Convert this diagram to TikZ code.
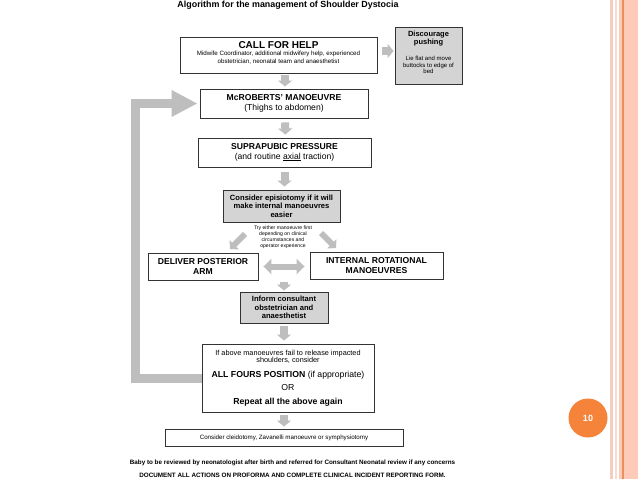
\documentclass[tikz,border=0pt]{standalone}
\usepackage{fontspec}
\setmainfont{Liberation Sans}
\usetikzlibrary{arrows.meta}
\definecolor{agray}{HTML}{BEBEBE}
\definecolor{bgray}{HTML}{D4D4D4}
\definecolor{bord}{HTML}{333333}
\definecolor{salm}{HTML}{FDCBB8}
\definecolor{pinkA}{HTML}{F5CDBF}
\definecolor{pinkB}{HTML}{F9DCD1}
\definecolor{oline}{HTML}{E8905E}
\definecolor{circ}{HTML}{F5843A}
\newcommand{\fsz}[2]{\fontsize{#1}{#2}\selectfont}
\begin{document}
\begin{tikzpicture}[x=1pt,y=-1pt,
  box/.style={draw=bord, line width=0.9pt, fill=white, inner sep=0pt, align=center},
  gbox/.style={box, fill=bgray},
  txt/.style={inner sep=0pt, anchor=base},
  garrow/.style={draw=agray, line width=8pt, -{Triangle[width=14pt,length=6pt]}},
  garrowS/.style={draw=agray, line width=6pt, -{Triangle[width=13pt,length=6pt]}},
  garrowD/.style={draw=agray, line width=6pt, {Triangle[width=15pt,length=8pt]}-{Triangle[width=15pt,length=8pt]}},
  loop/.style={draw=agray, line width=9pt, line join=miter, -{Triangle[width=25pt,length=26pt]}}
]
\useasboundingbox (0,0) rectangle (638,479);
\fill[white] (0,0) rectangle (638,479);

% slide decoration
\fill[pinkA] (609.5,0) rectangle (612.5,479);
\fill[pinkB] (615,0) rectangle (617,479);
\fill[salm] (618.5,0) rectangle (638,479);
\fill[oline] (622,0) rectangle (623.5,479);
\node[circle, fill=circ, minimum size=39pt, inner sep=0pt, text=white, font=\bfseries\fsz{9}{10}] (page) at (588,418) {10};

% title
\node[txt, font=\bfseries\fsz{8.9}{10}] (title) at (288,7.3) {Algorithm for the management of Shoulder Dystocia};

% boxes
\node[box, minimum width=197pt, minimum height=36pt] (call) at (278.5,55) {};
\node[txt, font=\bfseries\fsz{10}{11}] (callT) at (278.5,48) {CALL FOR HELP};
\node[txt, font=\fsz{6.2}{7}] (callS1) at (278.5,55.5) {Midwife Coordinator, additional midwifery help, experienced};
\node[txt, font=\fsz{6.2}{7}] (callS2) at (278.5,63) {obstetrician, neonatal team and anaesthetist};

\node[gbox, minimum width=67pt, minimum height=57pt] (disc) at (428.5,55.5) {};
\node[txt, font=\bfseries\fsz{7.5}{8}] (discT1) at (428.5,36.5) {Discourage};
\node[txt, font=\bfseries\fsz{7.5}{8}] (discT2) at (428.5,44) {pushing};
\node[txt, font=\fsz{6}{7}] (discS1) at (428.5,60) {Lie flat and move};
\node[txt, font=\fsz{6}{7}] (discS2) at (428.5,67) {buttocks to edge of};
\node[txt, font=\fsz{6}{7}] (discS3) at (428.5,73.5) {bed};

\node[box, minimum width=168pt, minimum height=29pt, font=\fsz{8.6}{9.5}] (mcr) at (284,103.5)
  {{\bfseries McROBERTS' MANOEUVRE}\\(Thighs to abdomen)};
\node[box, minimum width=173pt, minimum height=29pt, font=\fsz{8.6}{9.5}] (supra) at (284.5,152.5)
  {{\bfseries SUPRAPUBIC PRESSURE}\\(and routine \underline{axial} traction)};
\node[gbox, minimum width=117pt, minimum height=32pt, font=\bfseries\fsz{7.6}{8.5}] (epis) at (281.5,206)
  {Consider episiotomy if it will\\make internal manoeuvres\\easier};
\node[inner sep=0pt, align=center, font=\fsz{5.1}{6}] (try) at (283,237.5)
  {Try either manoeuvre first\\depending on clinical\\circumstances and\\operator experience};
\node[box, minimum width=110pt, minimum height=27pt, font=\bfseries\fsz{8.6}{10}] (deliver) at (203,266.5)
  {DELIVER POSTERIOR\\ARM};
\node[box, minimum width=133pt, minimum height=27pt, font=\bfseries\fsz{8.6}{10}] (internal) at (376.5,265.5)
  {INTERNAL ROTATIONAL\\MANOEUVRES};
\node[gbox, minimum width=88pt, minimum height=31pt, font=\bfseries\fsz{7.6}{8.5}] (inform) at (284,307.5)
  {Inform consultant\\obstetrician and\\anaesthetist};

\node[box, minimum width=172pt, minimum height=68pt] (big) at (288,378) {};
\node[txt, font=\fsz{7.3}{8}] (bigS1) at (288,355) {If above manoeuvres fail to release impacted};
\node[txt, font=\fsz{7.3}{8}] (bigS2) at (288,362.5) {shoulders, consider};
\node[txt, font=\fsz{8.7}{10}] (bigA) at (288,377.5) {\textbf{ALL FOURS POSITION} (if appropriate)};
\node[txt, font=\fsz{8.7}{10}] (bigO) at (288,390.5) {OR};
\node[txt, font=\bfseries\fsz{8.7}{10}] (bigR) at (288,404) {Repeat all the above again};

\node[box, minimum width=238pt, minimum height=17pt, font=\fsz{6.2}{7}] (cleid) at (284,437.5)
  {Consider cleidotomy, Zavanelli manoeuvre or symphysiotomy};

\node[txt, font=\bfseries\fsz{6.3}{7}] (baby) at (292.5,464)
  {Baby to be reviewed by neonatologist after birth and referred for Consultant Neonatal review if any concerns};
\node[txt, font=\bfseries\fsz{6.3}{7}] (doc) at (292.5,477)
  {DOCUMENT ALL ACTIONS ON PROFORMA AND COMPLETE CLINICAL INCIDENT REPORTING FORM.};

% connectors
\draw[garrow, shorten <=5pt, shorten >=1pt] ([yshift=4pt]call.east) -- ([yshift=4pt]call.east -| disc.west);
\draw[garrow, shorten <=2pt, shorten >=2pt] ([xshift=1pt]mcr.north |- call.south) -- ([xshift=1pt]mcr.north);
\draw[garrow, shorten <=4pt, shorten >=3pt] ([xshift=1pt]mcr.south) -- ([xshift=1pt]supra.north);
\draw[garrow, shorten <=5pt, shorten >=3pt] (supra.south) -- (supra.south |- epis.north);
\coordinate (dl1) at (245,234);
\coordinate (dl2) at (230,249);
\coordinate (dr1) at (321,233);
\coordinate (dr2) at (336,248);
\draw[garrowS] (dl1) -- (dl2);
\draw[garrowS] (dr1) -- (dr2);
\draw[garrowD, shorten <=5pt, shorten >=5pt] (deliver.east) -- (deliver.east -| internal.west);
\draw[garrow, shorten <=3pt, shorten >=1pt] (inform.north |- internal.south) -- (inform.north);
\draw[garrow, shorten <=3pt, shorten >=3pt] (inform.south) -- (inform.south |- big.north);
\draw[garrow, shorten <=3pt, shorten >=2pt] (cleid.north |- big.south) -- (cleid.north);
\draw[loop, shorten >=2pt] (big.west) -- ++(-66,0) |- (mcr.west);
\end{tikzpicture}
\end{document}
